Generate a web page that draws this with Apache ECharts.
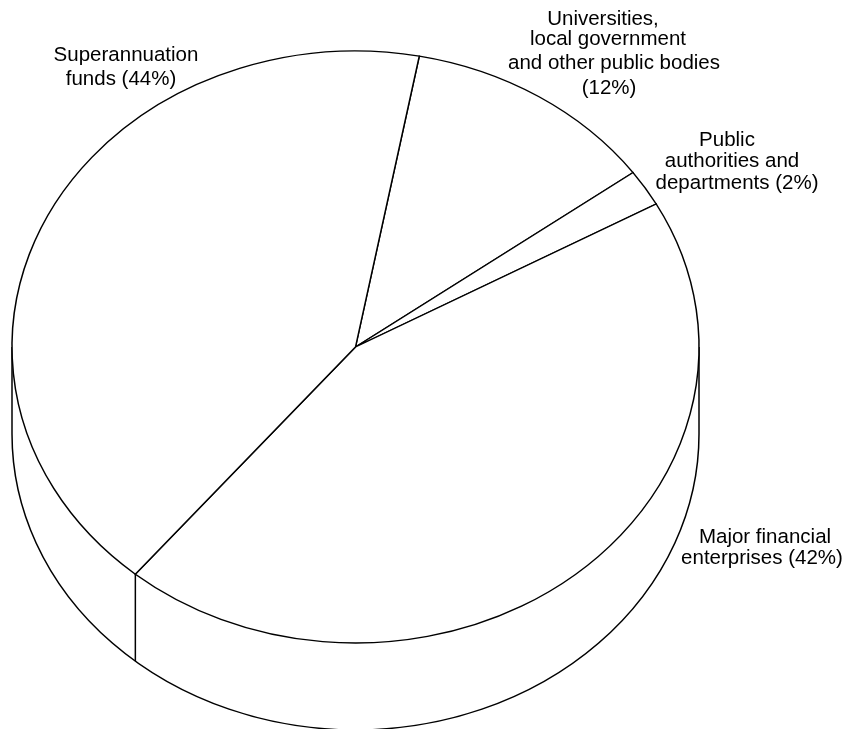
<!DOCTYPE html>
<html>
<head>
<meta charset="utf-8">
<style>html,body{margin:0;padding:0;background:#fff}#c{width:846px;height:729px}</style>
<script src="https://cdn.jsdelivr.net/npm/echarts@6/dist/echarts.min.js"></script>
</head>
<body>
<div id="c"></div>
<script>
// Slice shares as drawn, clockwise from the top boundary
var sliceNames = ['Universities, local government and other public bodies', 'Public authorities and departments', 'Major financial enterprises', 'Superannuation funds'];
var sliceShares = [12, 2, 44.1, 41.9];
var startAngleDeg = 10.7; // clockwise from twelve o'clock
// Label text as printed, line by line
var labelLines = [
  'Superannuation', 'funds (44%)',
  'Universities,', 'local government', 'and other public bodies', '(12%)',
  'Public', 'authorities and', 'departments (2%)',
  'Major financial', 'enterprises (42%)'
];
// Layout
var labelPos = [[126,55],[121,79],[603,19],[608,39],[614,63],[609,88],[727,140],[732,161],[737,183],[765,537],[762,558]];
var cx = 355.5, cy = 347, rx = 343.5, ry = 296, depth = 87;
var ink = '#000', lw = 1.5, fontSize = 20.5;
var total = sliceShares.reduce(function(a,b){return a+b;},0);
function angleAt(i){
  var sum = 0;
  for (var k=0;k<i;k++) sum += sliceShares[k];
  return (startAngleDeg - 90 + sum/total*360) * Math.PI/180;
}
var lineStyle = {stroke:ink, fill:null, lineWidth:lw};
var chart = echarts.init(document.getElementById('c'), null, {renderer:'canvas'});
chart.setOption({
  animation:false,
  backgroundColor:'#fff',
  series:[
    { type:'custom', coordinateSystem:'none', silent:true, clip:false,
      data:[depth],
      renderItem:function(params, api){
        var d = api.value(0);
        var a = angleAt(3); // front boundary between the two big slices
        var bx = cx + rx*Math.cos(a), by = cy + ry*Math.sin(a);
        return {type:'group', children:[
          {type:'arc', x:cx, y:cy+d, scaleY:ry/rx,
           shape:{cx:0,cy:0,r:rx,startAngle:0,endAngle:Math.PI,clockwise:true},
           style:{stroke:ink, fill:null, lineWidth:lw, strokeNoScale:true}},
          {type:'line', shape:{x1:cx-rx,y1:cy,x2:cx-rx,y2:cy+d}, style:lineStyle},
          {type:'line', shape:{x1:cx+rx,y1:cy,x2:cx+rx,y2:cy+d}, style:lineStyle},
          {type:'line', shape:{x1:bx,y1:by,x2:bx,y2:by+d}, style:lineStyle}
        ]};
      }
    },
    { type:'custom', coordinateSystem:'none', silent:true, clip:false,
      data:sliceShares.map(function(v,i){return {name:sliceNames[i], value:v};}),
      renderItem:function(params, api){
        var i = params.dataIndex;
        return {type:'sector', x:cx, y:cy, scaleY:ry/rx,
          shape:{cx:0,cy:0,r0:0,r:rx,startAngle:angleAt(i),endAngle:angleAt(i+1),clockwise:true},
          style:{fill:'#fff', stroke:ink, lineWidth:lw, strokeNoScale:true}};
      }
    }
  ],
  graphic:labelLines.map(function(t,i){
    return {type:'text', x:labelPos[i][0], y:labelPos[i][1], silent:true,
      style:{text:t, fill:'#000', font:fontSize+'px "Liberation Sans", Arial, sans-serif', textAlign:'center', textVerticalAlign:'middle'}};
  })
});
</script>
</body>
</html>
